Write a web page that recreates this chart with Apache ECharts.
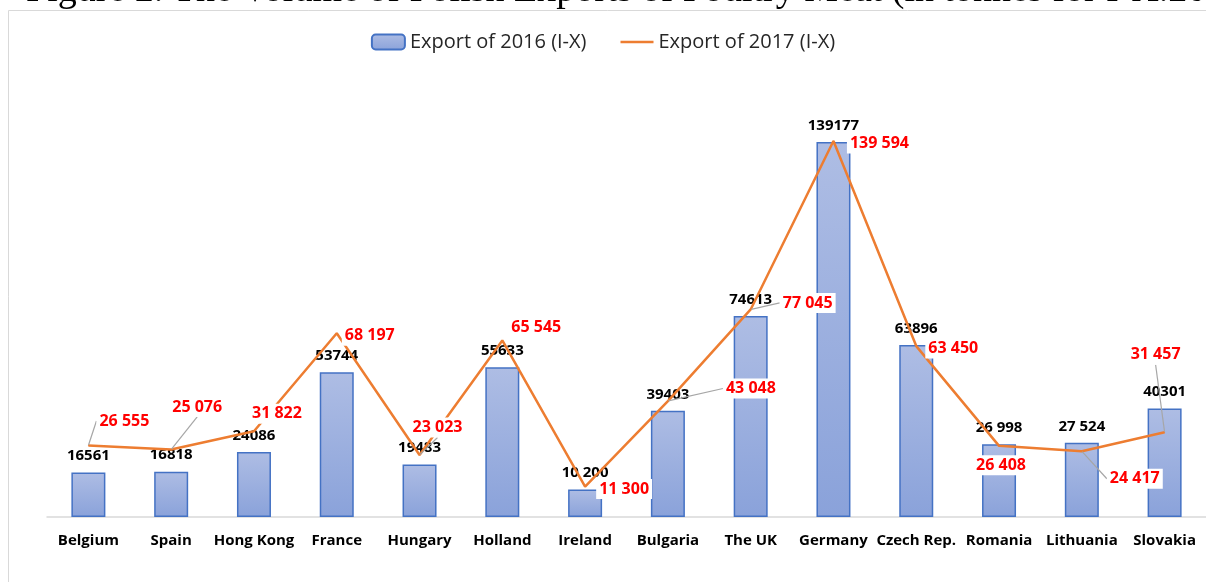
<!DOCTYPE html>
<html>
<head>
<meta charset="utf-8">
<script src="https://cdn.jsdelivr.net/npm/echarts@6/dist/echarts.min.js"></script>
<style>
  html, body { margin: 0; padding: 0; background: #fff; }
  #chart { width: 1206px; height: 582px; }
</style>
</head>
<body>
<div id="chart"></div>
<script>
// countries on the x axis
const countries = ["Belgium", "Spain", "Hong Kong", "France", "Hungary", "Holland", "Ireland",
  "Bulgaria", "The UK", "Germany", "Czech Rep.", "Romania", "Lithuania", "Slovakia"];
// export 2016 (bars), tonnes
const export2016 = [16561, 16818, 24086, 53744, 19483, 55633, 10200, 39403, 74613, 139177, 63896, 26998, 27524, 40301];
// labels as printed on the bars
const labels2016 = ["16561", "16818", "24086", "53744", "19483", "55633", "10 200", "39403", "74613", "139177", "63896", "26 998", "27 524", "40301"];
// export 2017 (line), tonnes
const export2017 = [26555, 25076, 31822, 68197, 23023, 65545, 11300, 43048, 77045, 139594, 63450, 26408, 24417, 31457];
const labels2017 = ["26 555", "25 076", "31 822", "68 197", "23 023", "65 545", "11 300", "43 048", "77 045", "139 594", "63 450", "26 408", "24 417", "31 457"];

// where the red labels were dragged to (offset of label centre from the point)
const labelShift = [[36, -26], [26, -44], [23, -19], [33, 1], [18, -29], [34, -15], [39, 1],
  [83, -14], [57, -8], [46, 1], [37, 1], [2, 18], [53, 26], [-9, -79]];
// which red labels have a leader line
const withLeader = [0, 1, 4, 7, 8, 12, 13];

let myChart = echarts.init(document.getElementById("chart"));

const barColor = new echarts.graphic.LinearGradient(0, 0, 0, 1, [
  { offset: 0, color: "#aebde4" },
  { offset: 1, color: "#8aa2da" },
]);

myChart.setOption({
  animation: false,
  textStyle: { fontFamily: "Open Sans" },
  graphic: [
    {
      type: "rect",
      shape: { x: 8.5, y: 10.5, width: 1400, height: 700 },
      style: { fill: "none", stroke: "#d9d9d9", lineWidth: 1 },
    },
    {
      type: "text",
      x: 26,
      y: 10,
      style: {
        text: "Figure 2. The Volume of Polish Exports of Poultry Meat (in tonnes for I-X.2016-2017)",
        font: "38px 'Liberation Serif'",
        fill: "#000",
        verticalAlign: "bottom",
      },
    },
  ],
  legend: {
    top: 27,
    left: "center",
    itemWidth: 33,
    itemHeight: 15,
    itemGap: 34,
    textStyle: { fontSize: 20, color: "#262626", fontFamily: "Open Sans" },
    data: [
      { name: "Export of 2016 (I-X)" },
      { name: "Export of 2017 (I-X)", icon: "path://M0,0 L33,0 L33,2.5 L0,2.5 Z" },
    ],
  },
  grid: {
    left: 47,
    width: 1172,
    top: 86,
    bottom: 65,
  },
  xAxis: {
    type: "category",
    data: countries,
    axisTick: { show: false },
    axisLine: { lineStyle: { color: "#d9d9d9", width: 1.5 } },
    axisLabel: {
      interval: 0,
      margin: 16,
      fontSize: 15,
      fontWeight: "bold",
      color: "#000",
    },
  },
  yAxis: {
    type: "value",
    min: 0,
    max: 160000,
    show: false,
    splitLine: { show: false },
  },
  series: [
    {
      name: "Export of 2016 (I-X)",
      type: "bar",
      data: export2016,
      barWidth: 34,
      itemStyle: {
        color: barColor,
        borderColor: "#4472c4",
        borderWidth: 1.5,
      },
      label: {
        show: true,
        position: "top",
        distance: 9,
        fontSize: 15,
        fontWeight: "bold",
        color: "#000",
        formatter: (p) => labels2016[p.dataIndex],
      },
    },
    {
      name: "Export of 2017 (I-X)",
      type: "line",
      data: export2017.map((v, i) => ({
        value: v,
        labelLine: { show: withLeader.includes(i) },
      })),
      showSymbol: true,
      symbol: "circle",
      symbolSize: 1,
      lineStyle: { color: "#ed7d31", width: 2.5 },
      itemStyle: { color: "#ed7d31" },
      z: 3,
      label: {
        show: true,
        position: "top",
        distance: 0,
        fontSize: 16,
        fontWeight: "bold",
        color: "#ff0000",
        backgroundColor: "#fff",
        padding: [2, 3],
        formatter: (p) => labels2017[p.dataIndex],
      },
      labelLine: {
        show: true,
        lineStyle: { color: "#a6a6a6", width: 1.2 },
      },
      labelLayout: (p) => ({
        dx: labelShift[p.dataIndex][0],
        dy: labelShift[p.dataIndex][1] + 12,
      }),
    },
  ],
});

window.addEventListener("resize", () => {
  myChart.resize();
});
</script>
</body>
</html>
